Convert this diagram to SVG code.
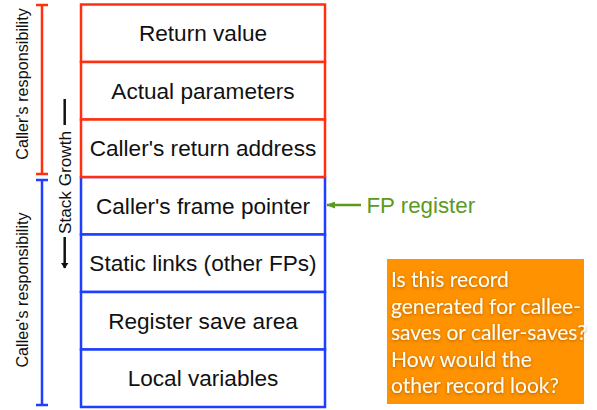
<svg xmlns="http://www.w3.org/2000/svg" width="597" height="410" viewBox="0 0 597 410">
<defs>
<style>
.lbl{font-family:"Liberation Sans",Arial,sans-serif;font-size:22.6px;fill:#111;text-anchor:middle}
.red{fill:#fff;stroke:#ff3010;stroke-width:2.5}
.blue{fill:#fff;stroke:#1f3fff;stroke-width:2.5}
.side{font-family:"Liberation Sans",Arial,sans-serif;font-size:16.2px;fill:#111;text-anchor:middle}
.q{font-family:Lato,"Open Sans",sans-serif;font-size:21px;fill:#fffdf2}
</style>
<marker id="ahBlack" viewBox="0 0 10 10" refX="9" refY="5" markerWidth="6" markerHeight="8" markerUnits="userSpaceOnUse" orient="auto" preserveAspectRatio="none"><path d="M0,0 L10,5 L0,10 z" fill="#111"/></marker>
<marker id="ahGreen" viewBox="0 0 10 10" refX="9" refY="5" markerWidth="9" markerHeight="7" markerUnits="userSpaceOnUse" orient="auto" preserveAspectRatio="none"><path d="M0,0 L10,5 L0,10 z" fill="#5b9a1e"/></marker>
<filter id="sh" x="-10%" y="-20%" width="120%" height="140%"><feDropShadow dx="0" dy="1" stdDeviation="1.5" flood-color="#7a3a00" flood-opacity="0.6"/></filter>
</defs>
<rect width="597" height="410" fill="#fff"/>

<g id="connectors">
<path d="M42,5 V174 M36,5 H48 M36,174 H48" stroke="#ff3010" stroke-width="2.5" fill="none"/>
<path d="M42,180 V405 M36,180 H48 M36,405 H48" stroke="#1f3fff" stroke-width="2.5" fill="none"/>
<path d="M64.7,99 V125" stroke="#111" stroke-width="2.5"/>
<path d="M64.7,237 V268" stroke="#111" stroke-width="2.5" marker-end="url(#ahBlack)"/>
<path d="M361,205 H327" stroke="#5b9a1e" stroke-width="2.5" marker-end="url(#ahGreen)"/>
</g>

<g id="callers-resp"><text class="side" transform="translate(28,84) rotate(-90)">Caller's responsibility</text></g>
<g id="callees-resp"><text class="side" transform="translate(28,290) rotate(-90)">Callee's responsibility</text></g>
<g id="stack-growth"><text class="side" style="font-size:17.2px" transform="translate(71,182.5) rotate(-90)">Stack Growth</text></g>

<g id="blue-boxes">
<g id="callers-fp"><rect class="blue" x="81" y="177" width="244" height="57.5"/><text class="lbl" x="203" y="213.5">Caller's frame pointer</text></g>
<g id="static-links"><rect class="blue" x="81" y="234.5" width="244" height="57.5"/><text class="lbl" x="203" y="271">Static links (other FPs)</text></g>
<g id="reg-save"><rect class="blue" x="81" y="292" width="244" height="57.5"/><text class="lbl" x="203" y="328.5">Register save area</text></g>
<g id="locals"><rect class="blue" x="81" y="349.5" width="244" height="57.5"/><text class="lbl" x="203" y="386">Local variables</text></g>
</g>
<g id="red-boxes">
<g id="return-value"><rect class="red" x="81" y="4.5" width="244" height="57.5"/><text class="lbl" x="203" y="41">Return value</text></g>
<g id="actual-params"><rect class="red" x="81" y="62" width="244" height="57.5"/><text class="lbl" x="203" y="98.5">Actual parameters</text></g>
<g id="return-addr"><rect class="red" x="81" y="119.5" width="244" height="57.5"/><text class="lbl" x="203" y="156">Caller's return address</text></g>
</g>

<g id="fp-register"><text x="366.5" y="213.3" style="font-family:'Liberation Sans',Arial,sans-serif;font-size:22.3px;fill:#5b9a1e">FP register</text></g>

<g id="question">
<rect x="387" y="259" width="197" height="145" fill="#ff9200"/>
<g filter="url(#sh)">
<text class="q" x="391" y="287">Is this record</text>
<text class="q" x="391" y="313.5">generated for callee-</text>
<text class="q" x="391" y="340">saves or caller-saves?</text>
<text class="q" x="391" y="366.5">How would the</text>
<text class="q" x="391" y="393">other record look?</text>
</g>
</g>
</svg>
